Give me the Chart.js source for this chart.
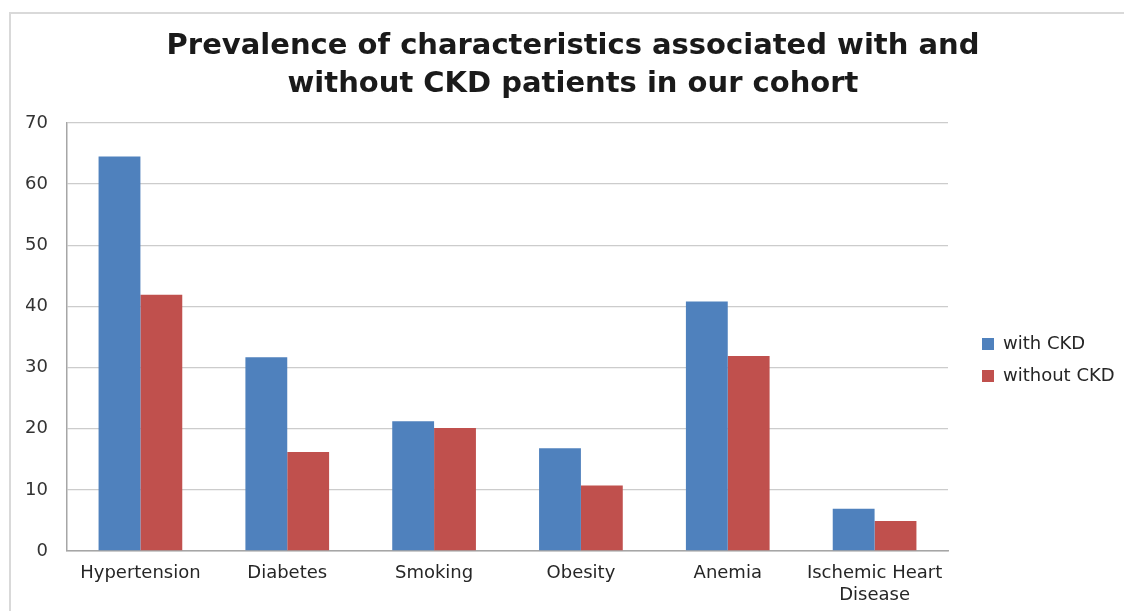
<!DOCTYPE html>
<html>
<head>
<meta charset="utf-8">
<script src="https://cdn.jsdelivr.net/npm/chart.js@4.4.1/dist/chart.umd.min.js"></script>
<style>
  html, body { margin: 0; padding: 0; background: #fff; }
  #wrap { position: relative; width: 1124px; height: 611px; }
  #frame { position: absolute; left: 9px; top: 12px; right: 0; bottom: 0; border-top: 2px solid #d9d9d9; border-left: 2px solid #d9d9d9; pointer-events: none; }
  canvas { position: absolute; left: 0; top: 0; }
</style>
</head>
<body>
<div id="wrap">
  <canvas id="c" width="1124" height="611"></canvas>
  <div id="frame"></div>
</div>
<script>
const categories = ["Hypertension", "Diabetes", "Smoking", "Obesity", "Anemia", ["Ischemic Heart", "Disease"]];
const withCKD = [64.5, 31.7, 21.2, 16.8, 40.8, 6.9];
const withoutCKD = [41.9, 16.2, 20.1, 10.7, 31.9, 4.9];
const seriesNames = ["with CKD", "without CKD"];
const titleLines = ["Prevalence of characteristics associated with and", "without CKD patients in our cohort"];
const yTicks = { min: 0, max: 70, step: 10 };

// Legend placement tweak: reserve a wider legend column, and place its items
const legendPlace = {
  id: 'legendPlace',
  beforeLayout(chart) {
    const lg = chart.legend;
    if (lg && !lg._patched) {
      const orig = lg.fit;
      lg.fit = function () { orig.call(this); this.width = 1124 - 4 - 948; };
      lg._patched = true;
    }
  },
  afterLayout(chart) {
    const lg = chart.legend;
    if (lg) { lg.left = 982 - 14; lg.top += 106; }
  }
};

new Chart(document.getElementById('c'), {
  type: 'bar',
  data: {
    labels: categories,
    datasets: [
      { label: seriesNames[0], data: withCKD, backgroundColor: '#4F81BD', borderWidth: 0, categoryPercentage: 0.57, barPercentage: 1.0 },
      { label: seriesNames[1], data: withoutCKD, backgroundColor: '#C0504D', borderWidth: 0, categoryPercentage: 0.57, barPercentage: 1.0 }
    ]
  },
  plugins: [legendPlace],
  options: {
    responsive: false,
    animation: false,
    layout: { padding: { left: 26, right: 4, top: 10, bottom: 7 } },
    plugins: {
      title: {
        display: true,
        text: titleLines,
        color: '#1a1a1a',
        font: { family: 'DejaVu Sans', size: 29, weight: 'bold', lineHeight: 1.31 },
        padding: { top: 17, bottom: 20 }
      },
      legend: {
        position: 'right',
        labels: {
          color: '#262626',
          font: { family: 'DejaVu Sans', size: 18 },
          boxWidth: 12,
          boxHeight: 12,
          padding: 14
        }
      },
      tooltip: { enabled: false }
    },
    scales: {
      x: {
        grid: { display: false, drawTicks: false },
        border: { color: '#a6a6a6', width: 1.5 },
        ticks: { color: '#262626', font: { family: 'DejaVu Sans', size: 18, lineHeight: 1.2 }, padding: 12, maxRotation: 0, autoSkip: false },
        afterFit(scale) { scale.height = 53; }
      },
      y: {
        min: yTicks.min,
        max: yTicks.max,
        grid: { color: '#cccccc', lineWidth: 1.3, drawTicks: false },
        border: { color: '#a6a6a6', width: 1.5 },
        ticks: { stepSize: yTicks.step, color: '#333', font: { family: 'DejaVu Sans', size: 18 }, padding: 19 },
        afterFit(scale) { scale.width = 41; }
      }
    }
  }
});
</script>
</body>
</html>
